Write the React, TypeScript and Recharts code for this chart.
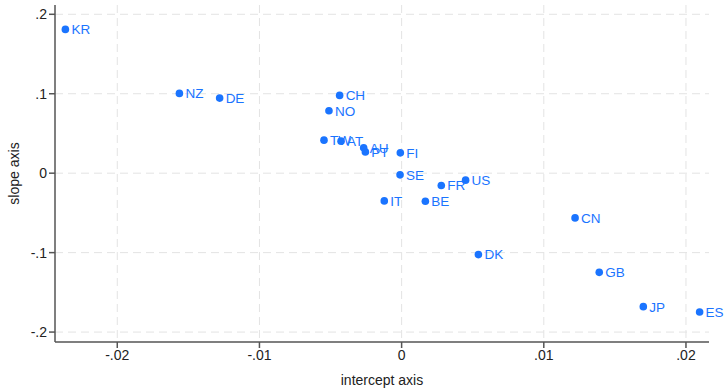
import React from 'react';
import { ScatterChart, Scatter, XAxis, YAxis, CartesianGrid, Label } from 'recharts';

const countries = ['KR', 'NZ', 'DE', 'CH', 'NO', 'TW', 'AT', 'AU', 'PT', 'FI', 'SE', 'FR', 'US', 'IT', 'BE', 'CN', 'DK', 'GB', 'JP', 'ES'];
const intercepts = [-0.02365, -0.01563, -0.0128, -0.00436, -0.00511, -0.00546, -0.00426, -0.00267, -0.00255, -0.00009, -0.00011, 0.00279, 0.0045, -0.00122, 0.00167, 0.0122, 0.0054, 0.0139, 0.017, 0.02096];
const slopes = [0.181, 0.1004, 0.0945, 0.0979, 0.0785, 0.0416, 0.0403, 0.0319, 0.0268, 0.0256, -0.0021, -0.0155, -0.0088, -0.0349, -0.0353, -0.0563, -0.1025, -0.1248, -0.168, -0.1748];

const xTicks = [-0.02, -0.01, 0, 0.01, 0.02];
const yTicks = [-0.2, -0.1, 0, 0.1, 0.2];

const points = countries.map((c, i) => ({ name: c, x: intercepts[i], y: slopes[i] }));

const BLUE = '#1a74ff';
const FONT = '"Liberation Sans", Arial, sans-serif';

// stata style: drop the leading zero
const fmt = (v: number) => {
  if (v === 0) return '0';
  const s = String(Math.round(v * 1000) / 1000);
  return s.replace(/^(-?)0\./, '$1.');
};

const Dot = (props: any) => {
  const { cx, cy, payload } = props;
  return (
    <g>
      <circle cx={cx} cy={cy} r={3.8} fill={BLUE} />
      <text x={cx + 6} y={cy} dy="0.36em" fill={BLUE} fontSize={13.5} fontFamily={FONT}>
        {payload.name}
      </text>
    </g>
  );
};

const App = () => {
  return (
    <div style={{ position: 'absolute', left: 0, top: 0, background: '#fff' }}>
      <ScatterChart width={724} height={391} margin={{ top: 5, right: 15, left: 0, bottom: 0 }}>
        <CartesianGrid stroke="#e3e3e3" strokeDasharray="8 5" horizontalValues={yTicks} verticalValues={xTicks} />
        <XAxis
          type="number"
          dataKey="x"
          domain={[-0.02438, 0.02162]}
          ticks={xTicks}
          tickFormatter={fmt}
          height={49}
          stroke="#555"
          strokeWidth={1.5}
          tickSize={6}
          tick={{ fill: '#222', fontSize: 14, fontFamily: FONT }}
        >
          <Label value="intercept axis" position="insideBottom" offset={6} fill="#222" fontSize={14} fontFamily={FONT} />
        </XAxis>
        <YAxis
          type="number"
          dataKey="y"
          domain={[-0.2125, 0.2117]}
          ticks={yTicks}
          tickFormatter={fmt}
          width={55}
          stroke="#555"
          strokeWidth={1.5}
          tickSize={6}
          tick={{ fill: '#222', fontSize: 14, fontFamily: FONT }}
        >
          <Label
            content={(p: any) => {
              const vb = p.viewBox || {};
              const cy = (vb.y || 0) + (vb.height || 0) / 2;
              return (
                <text x={14} y={cy} transform={`rotate(-90, 14, ${cy})`} textAnchor="middle" dy="0.36em" fill="#222" fontSize={14} fontFamily={FONT}>
                  slope axis
                </text>
              );
            }}
          />
        </YAxis>
        <Scatter data={points} shape={<Dot />} isAnimationActive={false} />
      </ScatterChart>
    </div>
  );
};

export default App;
